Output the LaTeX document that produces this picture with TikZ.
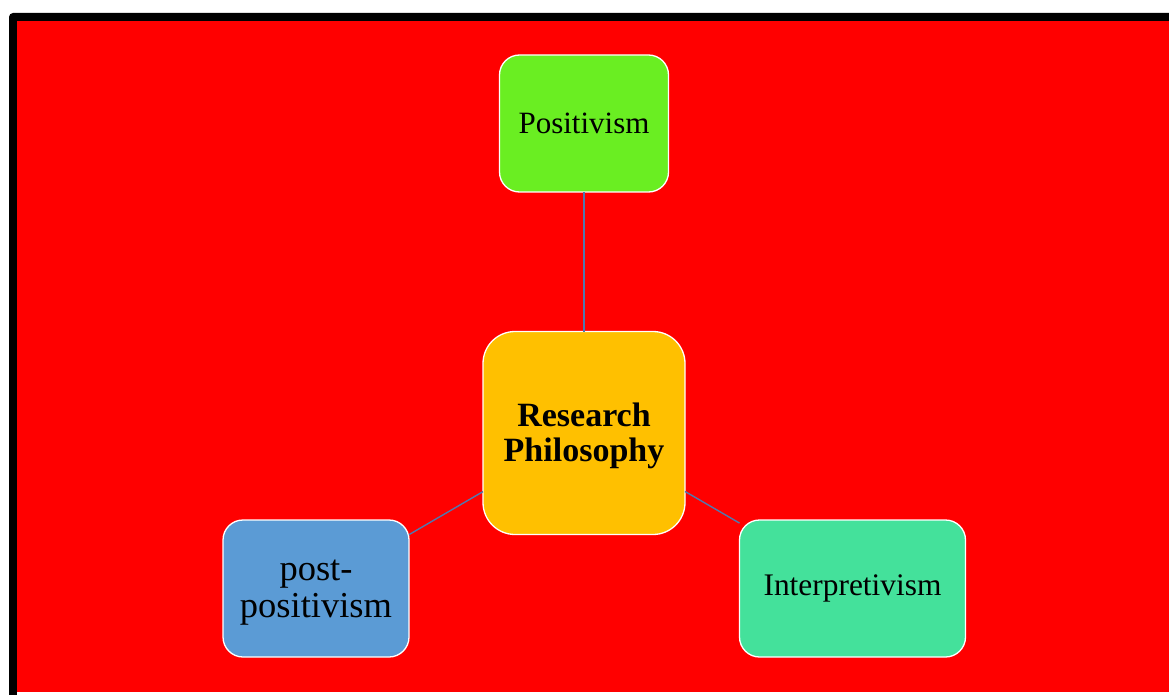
\documentclass[tikz,border=0pt]{standalone}
\usepackage{fontspec}
\setmainfont{Liberation Serif}
\definecolor{bgred}{RGB}{255,0,0}
\definecolor{posgreen}{RGB}{106,238,34}
\definecolor{centerorange}{RGB}{255,192,0}
\definecolor{postblue}{RGB}{91,155,213}
\definecolor{interteal}{RGB}{68,225,155}
\definecolor{linkblue}{RGB}{80,120,175}
\begin{document}
\begin{tikzpicture}[x=1pt,y=-1pt,
  box/.style={draw=white,line width=1.3pt,rounded corners=20pt,inner sep=0pt,outer sep=0pt,align=center,text=black},
  link/.style={draw=linkblue,line width=1.4pt}]
\useasboundingbox (0,0) rectangle (1169,695);
\fill[white] (0,0) rectangle (1169,695);
\begin{scope}
\clip (0,0) rectangle (1169,695);
\fill[black,rounded corners=4pt] (9,13) rectangle (1200,720);
\fill[white] (17,691.5) rectangle (1169,695);
\fill[bgred] (17,21) rectangle (1169,691.5);
\end{scope}
\node[box,fill=posgreen,minimum width=169pt,minimum height=137pt,font=\fontsize{31}{36}\selectfont] (pos) at (584,123.5) {Positivism};
\node[box,fill=centerorange,rounded corners=32pt,minimum width=202pt,minimum height=203pt,font=\fontsize{34}{35}\selectfont\bfseries] (rp) at (584,433) {\rule{0pt}{29pt}Research\\Philosophy};
\node[box,fill=postblue,minimum width=186pt,minimum height=137pt,font=\fontsize{36.5}{37}\selectfont] (post) at (316,588.5) {\rule{0pt}{29pt}post-\\positivism};
\node[box,fill=interteal,minimum width=226pt,minimum height=137pt,font=\fontsize{31.4}{36}\selectfont] (int) at (852.5,588.5) {Interpretivism};
\draw[link] (pos) -- (rp);
\draw[link] (rp) -- (post);
\draw[link] (rp) -- (int);
\end{tikzpicture}
\end{document}
